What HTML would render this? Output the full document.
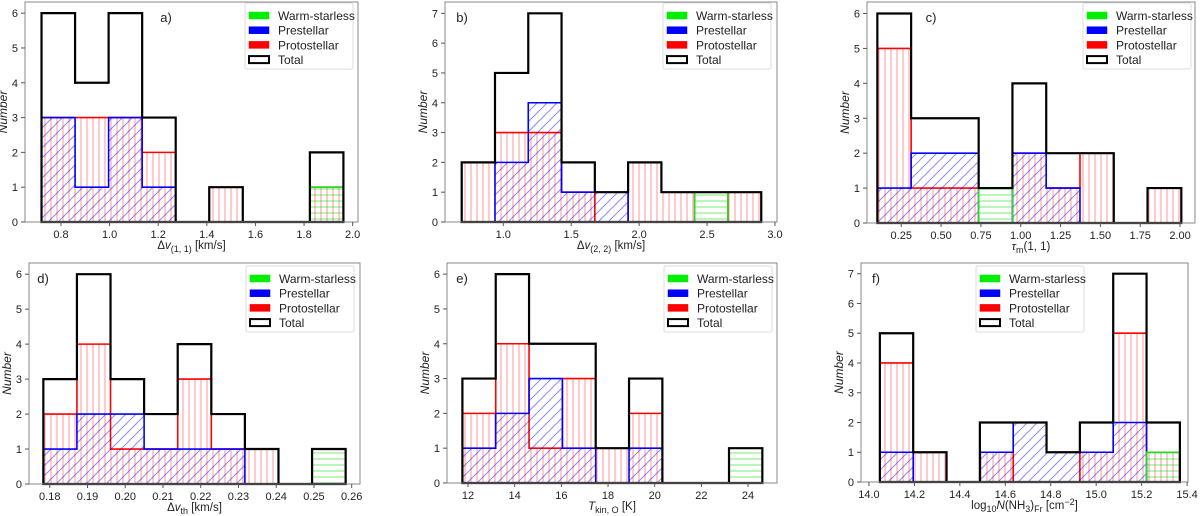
<!DOCTYPE html>
<html><head><meta charset="utf-8"><style>
html,body{margin:0;padding:0;background:#fff;}
svg{display:block;font-family:"Liberation Sans","DejaVu Sans",sans-serif;}
</style></head><body>
<svg id="fig" width="1200" height="516" viewBox="0 0 1200 516">
<defs>
<pattern id="hatchRed" patternUnits="userSpaceOnUse" width="6" height="6"><line x1="3" y1="0" x2="3" y2="6" stroke="rgba(255,0,0,0.35)" stroke-width="1.2"/></pattern>
<pattern id="hatchBlue" patternUnits="userSpaceOnUse" width="10" height="10"><path d="M-2,12 L12,-2 M-2,2 L2,-2 M8,12 L12,8" stroke="rgba(0,0,255,0.45)" stroke-width="1"/></pattern>
<pattern id="hatchGreen" patternUnits="userSpaceOnUse" width="6" height="6"><line x1="0" y1="3" x2="6" y2="3" stroke="rgba(0,220,0,0.45)" stroke-width="1.2"/></pattern>
</defs>
</svg>
<script>
// Panel a
const aStart = 0.72, aWidth = 0.138;
const aWarm = [0,0,0,0,0,0,0,0,1];
const aPre = [3,1,3,1,0,0,0,0,0];
const aProto = [3,3,3,2,0,1,0,0,1];
const aTotal = [6,4,6,3,0,1,0,0,2];
const aXTicks = ["0.8","1.0","1.2","1.4","1.6","1.8","2.0"];
// Panel b
const bStart = 0.694, bWidth = 0.245;
const bWarm = [0,0,0,0,0,0,0,1,0];
const bPre = [0,2,4,1,1,0,0,0,0];
const bProto = [2,3,3,1,0,2,1,0,1];
const bTotal = [2,5,7,2,1,2,1,1,1];
const bXTicks = ["1.0","1.5","2.0","2.5","3.0"];
// Panel c
const cStart = 0.10, cWidth = 0.212;
const cWarm = [0,0,0,1,0,0,0,0,0];
const cPre = [1,2,2,0,2,1,0,0,0];
const cProto = [5,1,1,0,2,1,2,0,1];
const cTotal = [6,3,3,1,4,2,2,0,1];
const cXTicks = ["0.25","0.50","0.75","1.00","1.25","1.50","1.75","2.00"];
// Panel d
const dStart = 0.1783, dWidth = 0.0089;
const dWarm = [0,0,0,0,0,0,0,0,1];
const dPre = [1,2,2,1,1,1,0,0,0];
const dProto = [2,4,1,1,3,1,1,0,0];
const dTotal = [3,6,3,2,4,2,1,0,1];
const dXTicks = ["0.18","0.19","0.20","0.21","0.22","0.23","0.24","0.25","0.26"];
// Panel e
const eStart = 11.76, eWidth = 1.428;
const eWarm = [0,0,0,0,0,0,0,0,1];
const ePre = [1,2,3,1,0,1,0,0,0];
const eProto = [2,4,1,3,1,2,0,0,0];
const eTotal = [3,6,4,4,1,3,0,0,1];
const eXTicks = ["12","14","16","18","20","22","24"];
// Panel f
const fStart = 14.048, fWidth = 0.1467;
const fWarm = [0,0,0,0,0,0,0,0,1];
const fPre = [1,0,0,1,2,1,1,2,0];
const fProto = [4,1,0,1,0,0,1,5,1];
const fTotal = [5,1,0,2,2,1,2,7,2];
const fXTicks = ["14.0","14.2","14.4","14.6","14.8","15.0","15.2","15.4"];

const NS = "http://www.w3.org/2000/svg";
const svg = document.getElementById('fig');
function mk(tag, attrs, parent){
  const el = document.createElementNS(NS, tag);
  for (const k in attrs) el.setAttribute(k, attrs[k]);
  (parent||svg).appendChild(el);
  return el;
}
const panels = [
 {id:'a', rect:[25,2,358,222], xd:[0.652,2.022], ymax:6.32, yt:6, start:aStart, w:aWidth, warm:aWarm, pre:aPre, proto:aProto, total:aTotal, xt:aXTicks, xl:'Δ<tspan font-style="italic">v</tspan><tspan font-size="9" dy="3">(1, 1)</tspan><tspan dy="-3"> [km/s]</tspan>', lab:[166,17], leg:[245,3]},
 {id:'b', rect:[445,2,777,222], xd:[0.571,3.015], ymax:7.38, yt:7, start:bStart, w:bWidth, warm:bWarm, pre:bPre, proto:bProto, total:bTotal, xt:bXTicks, xl:'Δ<tspan font-style="italic">v</tspan><tspan font-size="9" dy="3">(2, 2)</tspan><tspan dy="-3"> [km/s]</tspan>', lab:[462,17], leg:[663,3]},
 {id:'c', rect:[867,2,1195,223], xd:[0.035,2.094], ymax:6.33, yt:6, start:cStart, w:cWidth, warm:cWarm, pre:cPre, proto:cProto, total:cTotal, xt:cXTicks, xl:'<tspan font-style="italic">τ</tspan><tspan font-size="9" dy="3">m</tspan><tspan dy="-3">(1, 1)</tspan>', lab:[931,17], leg:[1083,3]},
 {id:'d', rect:[29,263,360,484], xd:[0.1745,0.2622], ymax:6.32, yt:6, start:dStart, w:dWidth, warm:dWarm, pre:dPre, proto:dProto, total:dTotal, xt:dXTicks, xl:'Δ<tspan font-style="italic">v</tspan><tspan font-size="9" dy="3">th</tspan><tspan dy="-3"> [km/s]</tspan>', lab:[43,278], leg:[246,266]},
 {id:'e', rect:[447,263,777,483], xd:[11.1,25.24], ymax:6.32, yt:6, start:eStart, w:eWidth, warm:eWarm, pre:ePre, proto:eProto, total:eTotal, xt:eXTicks, xl:'<tspan font-style="italic">T</tspan><tspan font-size="9" dy="3">kin, O</tspan><tspan dy="-3"> [K]</tspan>', lab:[462,278], leg:[664,266]},
 {id:'f', rect:[861,263,1188,482], xd:[13.965,15.404], ymax:7.36, yt:7, start:fStart, w:fWidth, warm:fWarm, pre:fPre, proto:fProto, total:fTotal, xt:fXTicks, xl:'log<tspan font-size="9" dy="3">10</tspan><tspan dy="-3" font-style="italic">N</tspan>(NH<tspan font-size="9" dy="3">3</tspan><tspan dy="-3">)</tspan><tspan font-size="9" dy="3">Fr</tspan><tspan dy="-3"> [cm</tspan><tspan font-size="9" dy="-4">−2</tspan><tspan dy="4">]</tspan>', lab:[876,278], leg:[976,266]}
];
panels.forEach(p => {
  const [L,T,R,B] = p.rect;
  const g = mk('g', {});
  
  
  const sx = v => L + (v - p.xd[0]) / (p.xd[1] - p.xd[0]) * (R - L);
  const sy = v => B - v / p.ymax * (B - T);
  function stepPath(vals){
    let d = 'M' + sx(p.start) + ',' + sy(0);
    vals.forEach((v,i) => {
      const x0 = sx(p.start + i*p.w), x1 = sx(p.start + (i+1)*p.w);
      d += ' L' + x0 + ',' + sy(v) + ' L' + x1 + ',' + sy(v);
    });
    d += ' L' + sx(p.start + vals.length*p.w) + ',' + sy(0) + ' Z';
    return d;
  }
  const series = [
    {vals:p.proto, fill:'url(#hatchRed)', stroke:'#ff0000', sw:1.6, name:'protostellar-histogram'},
    {vals:p.pre, fill:'url(#hatchBlue)', stroke:'#0000ff', sw:1.6, name:'prestellar-histogram'},
    {vals:p.warm, fill:'url(#hatchGreen)', stroke:'#22dd22', sw:1.6, name:'warm-starless-histogram'},
    {vals:p.total, fill:'none', stroke:'#000000', sw:2.2, name:'total-histogram'}
  ];
  series.forEach(s => {
    const path = mk('path', {d:stepPath(s.vals), fill:s.fill, stroke:s.stroke, 'stroke-width':s.sw, 'stroke-linejoin':'miter'}, g);
    
    
  });
  const frame = mk('rect', {x:L, y:T, width:R-L, height:B-T, fill:'none', stroke:'#888', 'stroke-width':1}, g);
  
  
  for (let k = 0; k <= p.yt; k++){
    const y = sy(k);
    mk('line', {x1:L-4, x2:L, y1:y, y2:y, stroke:'#555', 'stroke-width':1}, g);
    const t = mk('text', {x:L-7, y:y+4, 'text-anchor':'end', 'font-size':11, fill:'#222'}, g);
    t.textContent = String(k);
    
    
  }
  p.xt.forEach(lbl => {
    const x = sx(parseFloat(lbl));
    mk('line', {x1:x, x2:x, y1:B, y2:B+4, stroke:'#555', 'stroke-width':1}, g);
    const t = mk('text', {x:x, y:B+16, 'text-anchor':'middle', 'font-size':11, fill:'#222'}, g);
    t.textContent = lbl;
    
    
  });
  const xl = mk('text', {x:(L+R)/2, y:B+27, 'text-anchor':'middle', 'font-size':11.5, fill:'#222'}, g);
  xl.innerHTML = p.xl;
  
  
  const yl = mk('text', {x:0, y:0, 'text-anchor':'middle', 'font-size':12, 'font-style':'italic', fill:'#222', transform:'translate(' + (L-18) + ',' + ((T+B)/2) + ') rotate(-90)'}, g);
  yl.textContent = 'Number';
  
  
  const pl = mk('text', {x:p.lab[0], y:p.lab[1]+5, 'text-anchor':'middle', 'font-size':13, fill:'#222'}, g);
  pl.textContent = p.id + ')';
  
  
  const lg = mk('g', {}, g);
  
  
  const [lx, ly] = p.leg;
  mk('rect', {x:lx, y:ly, width:108, height:66, rx:2, fill:'#fff', 'fill-opacity':0.85, stroke:'#ddd', 'stroke-width':1}, lg);
  const entries = [['Warm-starless','#00ee00','#00ee00'],['Prestellar','#0000ff','#0000ff'],['Protostellar','#ff0000','#ff0000'],['Total','#fff','#000']];
  entries.forEach((e,i) => {
    const cy = ly + 12.5 + i*14.7;
    const patch = mk('rect', {x:lx+4, y:cy-3.5, width:20, height:7, fill:e[1], stroke:e[2], 'stroke-width':i===3?2:0.5}, lg);
    
    
    const t = mk('text', {x:lx+33, y:cy+4.5, 'font-size':12, fill:'#222'}, lg);
    t.textContent = e[0];
    
    
  });
});
</script>
</body></html>
